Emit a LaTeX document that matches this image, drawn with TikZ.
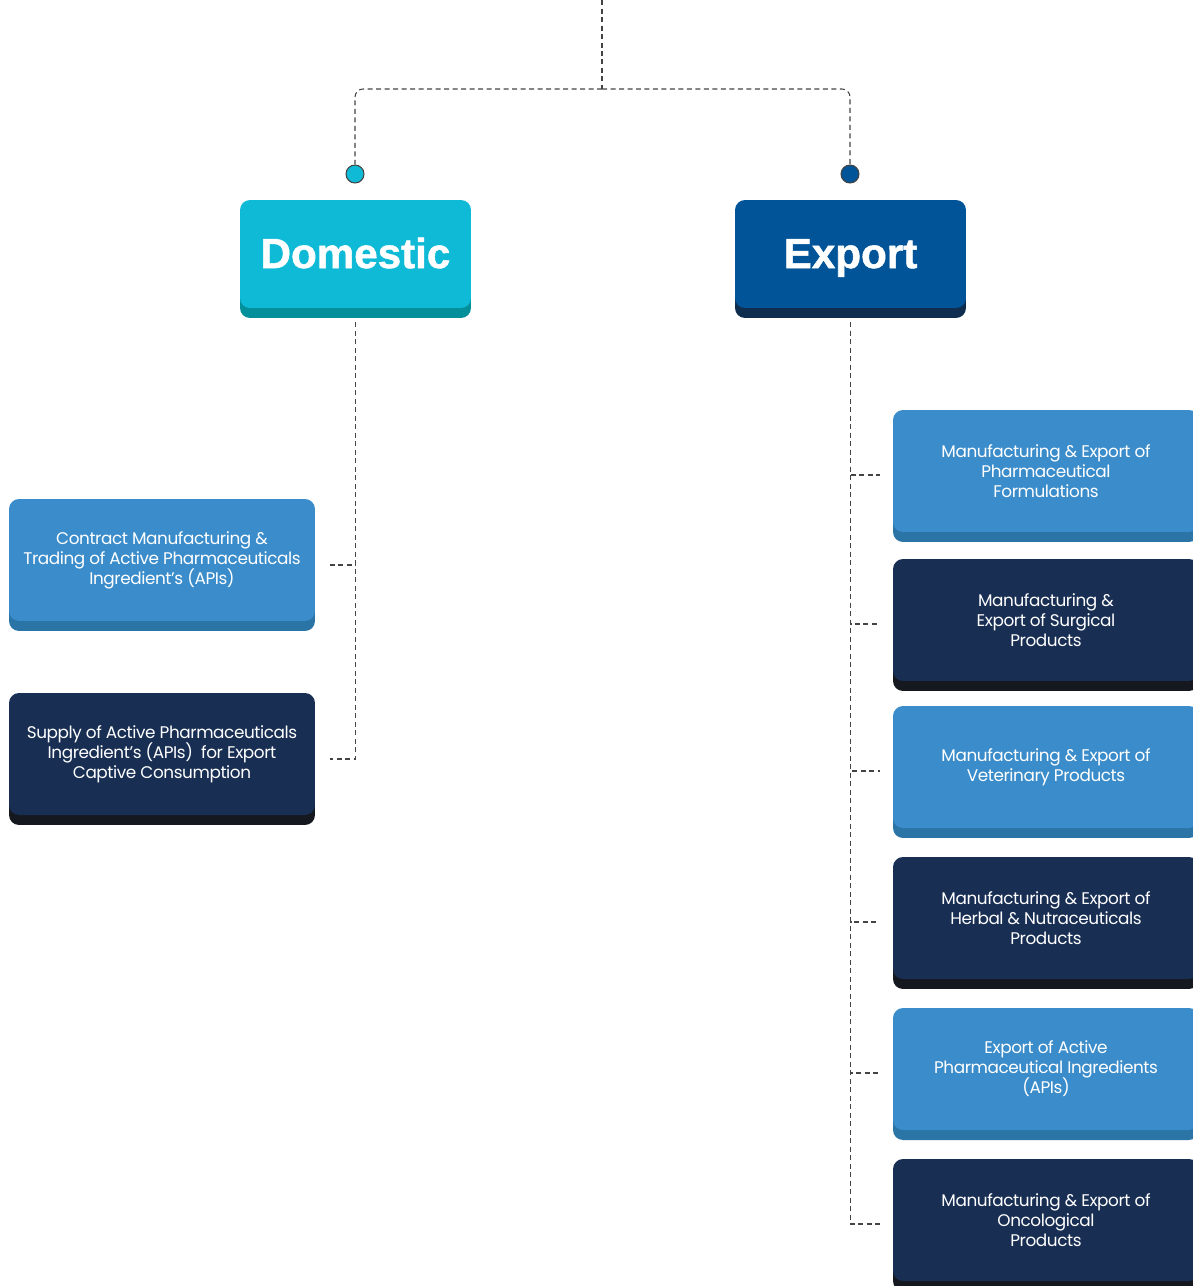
\documentclass[tikz,border=0pt]{standalone}
\usepackage{fontspec}
\setmainfont{Poppins}[LetterSpace=-2.5]
\newfontfamily\headfont{Liberation Sans}[BoldFeatures={FakeBold=1.2}]
\usepackage{tikz}
\usetikzlibrary{shadows}

\definecolor{domC}{HTML}{0EBAD6}
\definecolor{domS}{HTML}{04909B}
\definecolor{expC}{HTML}{025498}
\definecolor{expS}{HTML}{0F2E4F}
\definecolor{lightC}{HTML}{3B8CCA}
\definecolor{lightS}{HTML}{2A74A6}
\definecolor{darkC}{HTML}{182E53}
\definecolor{darkS}{HTML}{15181E}
\definecolor{linkC}{HTML}{444444}

\newcommand{\itemfont}{\fontsize{9.6}{11.4}\selectfont\lineskiplimit=-20pt\relax}

\tikzset{
  link/.style={draw=linkC, line width=0.6pt, dash pattern=on 0.1cm off 0.07cm},
  head/.style={rounded corners=0.2cm, minimum width=4.62cm, minimum height=2.16cm,
    text height=17pt, text depth=1pt,
    text=white, font=\headfont\bfseries\fontsize{24}{28}\selectfont},
  item/.style={rounded corners=0.2cm, minimum width=6.12cm, minimum height=2.44cm,
    text=white, align=center, font=\itemfont},
  lightbox/.style={item, fill=lightC, drop shadow={shadow xshift=0pt, shadow yshift=-0.2cm, fill=lightS, opacity=1}},
  darkbox/.style={item, fill=darkC, drop shadow={shadow xshift=0pt, shadow yshift=-0.2cm, fill=darkS, opacity=1}},
  dot/.style={circle, draw=linkC, line width=0.6pt, minimum size=0.36cm, inner sep=0pt}
}

\begin{document}
\begin{tikzpicture}[x=0.02cm, y=-0.02cm]
	\useasboundingbox (0, 0) rectangle (1193, 1286);
	\coordinate (top) at (602, 0);
	\coordinate (hub) at (602, 89);
	\node [dot, fill=domC] (dotD) at (355, 174) {};
	\node [dot, fill=expC] (dotE) at (850, 174) {};
	\node [head, fill=domC, drop shadow={shadow xshift=0pt, shadow yshift=-0.2cm, fill=domS, opacity=1}] (dom) at (355.5, 254) {Domestic};
	\node [head, fill=expC, drop shadow={shadow xshift=0pt, shadow yshift=-0.2cm, fill=expS, opacity=1}] (exp) at (850.5, 254) {Export};

	\node [lightbox] (L1) at (162, 560) {Contract Manufacturing \&\\Trading of Active Pharmaceuticals\\Ingredient’s (APIs)};
	\node [darkbox] (L2) at (162, 754) {Supply of Active Pharmaceuticals\\Ingredient’s (APIs)\ \ for Export\\Captive Consumption};

	\node [lightbox] (R1) at (1046, 471) {Manufacturing \& Export of\\Pharmaceutical\\Formulations};
	\node [darkbox] (R2) at (1046, 620) {Manufacturing \&\\Export of Surgical\\Products};
	\node [lightbox] (R3) at (1046, 767) {Manufacturing \& Export of\\Veterinary Products};
	\node [darkbox] (R4) at (1046, 918) {Manufacturing \& Export of\\Herbal \& Nutraceuticals\\Products};
	\node [lightbox] (R5) at (1046, 1069) {Export of Active\\Pharmaceutical Ingredients\\(APIs)};
	\node [darkbox] (R6) at (1046, 1220) {Manufacturing \& Export of\\Oncological\\Products};

	\draw [link] (top) -- (hub);
	\draw [link, rounded corners=0.16cm] (hub) -| (dotD);
	\draw [link, rounded corners=0.16cm] (hub) -| (dotE);
	\foreach \b in {L1, L2}
		\draw [link, shorten <=0.28cm, shorten >=0.3cm] (dom.south) |- ([yshift=-0.1cm]\b.east);
	\foreach \b in {R1, R2, R3, R4, R5, R6}
		\draw [link, shorten <=0.28cm, shorten >=0.26cm] (exp.south) |- ([yshift=-0.08cm]\b.west);
\end{tikzpicture}
\end{document}
